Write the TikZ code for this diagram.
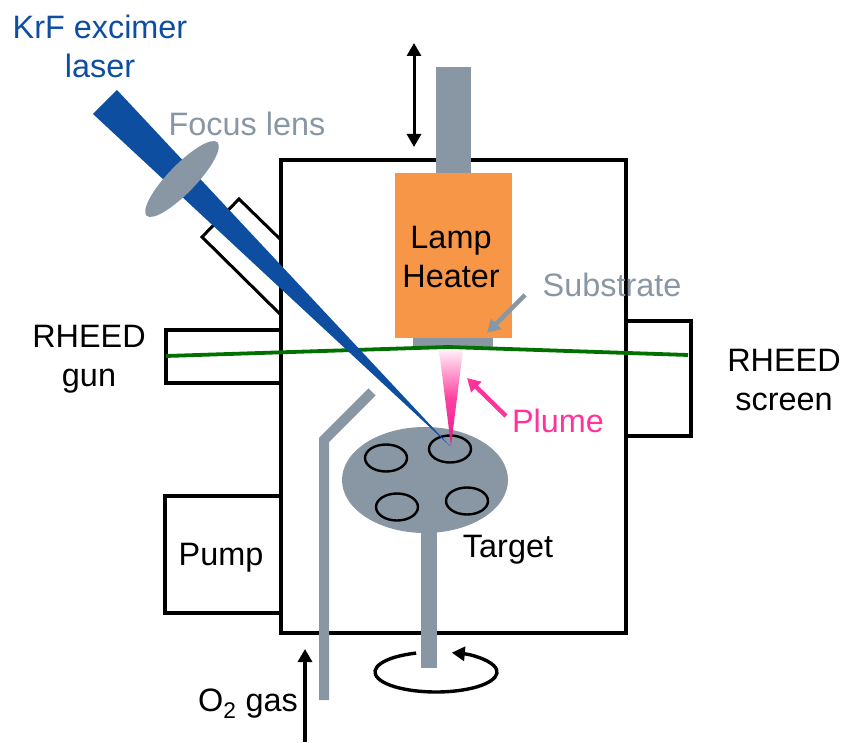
\documentclass[tikz,border=0pt]{standalone}
\usepackage{fontspec}
\setmainfont{Liberation Sans}
\usetikzlibrary{arrows.meta}
\definecolor{rodgray}{HTML}{8996A3}
\definecolor{laserblue}{HTML}{0D4EA0}
\definecolor{heaterorange}{HTML}{F79646}
\definecolor{beamgreen}{HTML}{007000}
\definecolor{plumepink}{HTML}{FF3399}
\definecolor{plumedeep}{HTML}{E6178C}
\tikzset{
	wall/.style={line width=3.6pt, line join=miter},
	label/.style={font=\fontsize{32.4}{39}\selectfont, align=center, inner sep=0pt},
	tip/.style={-{Triangle[length=13pt, width=14pt]}},
	hole/.style={line width=2.4pt, fill=rodgray},
}

\begin{document}
\begin{tikzpicture}[x=1pt, y=1pt]
		%%%%% START %%%%%
		\useasboundingbox (0, 0) rectangle (842, 742);

		\draw[wall] (281, 582) rectangle (626, 109);

		\draw[line width=3pt] (281, 502) -- (239, 543) -- (202, 505) -- (281, 427);
		\draw[wall] (281, 412) -- (166, 412) -- (166, 359) -- (281, 359);
		\draw[wall] (626, 421) -- (691, 421) -- (691, 306) -- (626, 306);
		\draw[wall] (281, 246) -- (165, 246) -- (165, 129) -- (281, 129);

		\fill[rodgray] (436, 675) rectangle (471, 569);
		\fill[heaterorange] (395, 569) rectangle (512, 404);
		\fill[rodgray] (413, 404) rectangle (493, 394);

		\draw[beamgreen, line width=3.8pt] (166, 386) -- (448, 395) -- (688, 387);

		\fill[rodgray] (421, 212) rectangle (437, 74);
		\fill[rodgray] (425, 262) ellipse (83 and 53);
		\draw[hole] (386, 284) ellipse (21 and 13.5);
		\draw[hole] (450, 293) ellipse (21 and 13.5);
		\draw[hole] (397, 235) ellipse (21 and 13.5);
		\draw[hole] (467, 241) ellipse (21 and 13.5);

		\shade[top color=plumepink!8, bottom color=plumedeep, middle color=plumepink!92] (439, 392) -- (463, 392) -- (451, 296) -- cycle;

		\fill[laserblue] (117, 652) -- (93, 628) -- (450, 296) -- cycle;
		\fill[rodgray, rotate around={46:(182, 563)}] (182, 563) ellipse (51 and 14);

		\draw[rodgray, line width=10pt] (324, 42) -- (324, 302) -- (372, 350);

		\draw[{Triangle[length=13pt, width=14pt]}-{Triangle[length=13pt, width=14pt]}, line width=3pt] (414, 699) -- (414, 595);
		\draw[tip, line width=3.2pt] (305, 0) -- (305, 93);
		\draw[tip, line width=3.4pt] (436, 70) ++(109:61 and 20) arc (109:435:61 and 20);
		\draw[tip, rodgray, line width=4.4pt] (525, 447) -- (487, 409);
		\draw[tip, plumepink, line width=4.4pt] (506, 326) -- (467, 364);

		\node[label, laserblue] (laser) at (100, 696) {KrF excimer\\laser};
		\node[label, rodgray] (lens) at (247, 618) {Focus lens};
		\node[label] (heater) at (451, 485) {Lamp\\Heater};
		\node[label, rodgray] (substrate) at (612, 457) {Substrate};
		\node[label, plumepink] (plume) at (558, 321) {Plume};
		\node[label] (target) at (508, 192) {Target};
		\node[label] (gun) at (89, 383) {RHEED\\gun};
		\node[label] (screen) at (784, 362) {RHEED\\screen};
		\node[label] (pump) at (221, 184) {Pump};
		\node[label] (gas) at (248, 38) {O\textsubscript{2} gas};

		%%%%% END %%%%%
	\end{tikzpicture}
\end{document}
